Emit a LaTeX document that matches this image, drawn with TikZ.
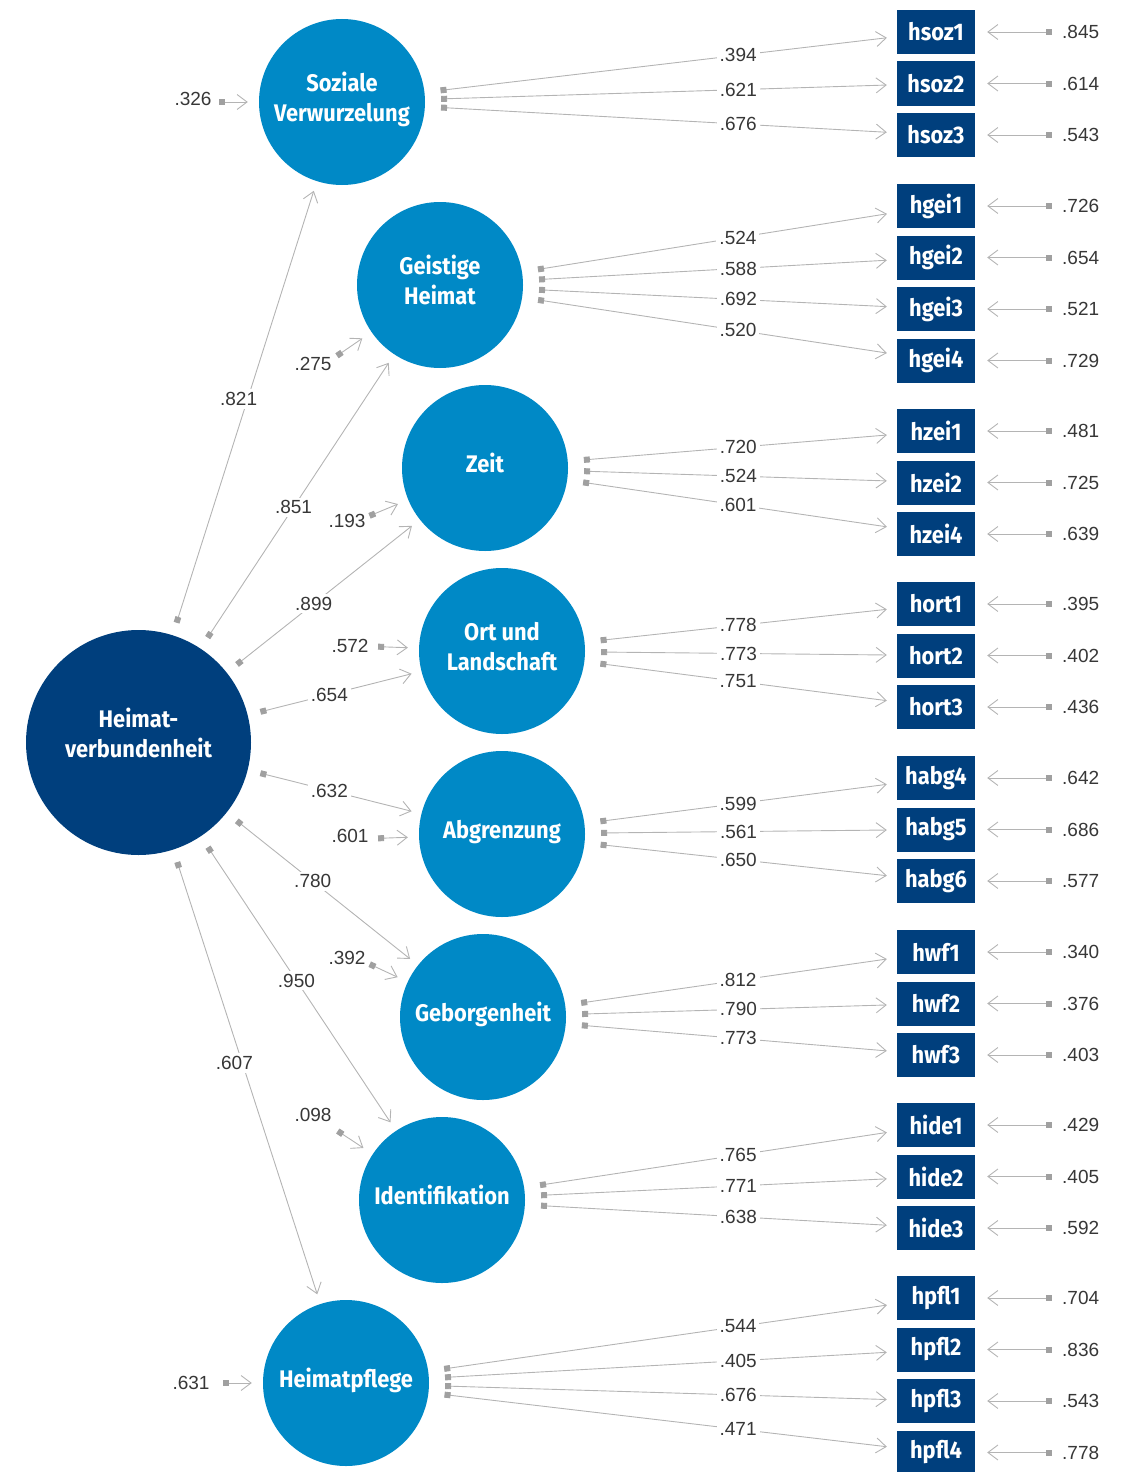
\documentclass[tikz,border=0pt]{standalone}
\usepackage{fontspec}
\setmainfont{Liberation Sans}
\newfontfamily\condfont{Fira Sans}[FakeStretch=0.91]
\usetikzlibrary{arrows.meta}
\definecolor{factblue}{RGB}{0,137,198}
\definecolor{darkblue}{RGB}{0,63,125}
\definecolor{linegray}{RGB}{180,180,180}
\definecolor{sqgray}{RGB}{160,160,160}
\definecolor{numgray}{RGB}{55,55,55}
\begin{document}
\begin{tikzpicture}[x=1pt,y=-1pt,
	latent/.style={circle,fill=factblue,minimum size=166pt,inner sep=0pt,text=white,align=center,text depth=10pt,font=\condfont\bfseries\fontsize{24}{30}\selectfont},
	general/.style={latent,fill=darkblue,minimum size=225pt,text depth=20pt},
	item/.style={rectangle,fill=darkblue,minimum width=78pt,minimum height=44pt,inner sep=0pt,text=white,font=\condfont\bfseries\fontsize{24}{24}\selectfont},
	num/.style={text=numgray,font=\fontsize{19}{19}\selectfont,inner sep=0pt},
	coef/.style={num,fill=white,inner sep=3pt},
	errnum/.style={num,anchor=west,inner xsep=10pt},
	link/.style={draw=linegray,line width=0.9pt,{Square[length=6pt,width=6pt,color=sqgray]}-{Straight Barb[length=10pt,width=15pt]}},
	load/.style={link,shorten <=16pt,shorten >=10pt},
	load2/.style={link,shorten <=13pt,shorten >=10pt},
	err/.style={link,shorten >=12pt},
	dist/.style={link,shorten >=11pt}]
	\useasboundingbox (0,0) rectangle (1131,1472);
	\node [general] (hv) at (138.5,742.5) {Heimat-\\verbundenheit};
	\node [latent] (sv) at (342,102) {Soziale\\Verwurzelung};
	\node [latent] (gh) at (440,285) {Geistige\\Heimat};
	\node [latent] (zt) at (485,468) {Zeit};
	\node [latent] (ol) at (502,651) {Ort und\\Landschaft};
	\node [latent] (ab) at (502,834) {Abgrenzung};
	\node [latent] (gb) at (483,1017) {Geborgenheit};
	\node [latent] (id) at (442,1200) {Identifikation};
	\node [latent] (hp) at (346,1383) {Heimatpflege};
	\draw [load2] (hv) -- (sv) node [coef,pos=0.52,xshift=-9pt] {.821};
	\draw [load2] (hv) -- (gh) node [coef,pos=0.48] {.851};
	\draw [load2] (hv) -- (zt) node [coef,pos=0.45] {.899};
	\draw [load2] (hv) -- (ol) node [coef,pos=0.47] {.654};
	\draw [load2] (hv) -- (ab) node [coef,pos=0.47] {.632};
	\draw [load2] (hv) -- (gb) node [coef,pos=0.45] {.780};
	\draw [load2] (hv) -- (id) node [coef,pos=0.49] {.950};
	\draw [load2] (hv) -- (hp) node [coef,pos=0.47,xshift=-8pt] {.607};
	\coordinate (dsv) at ([shift={(180:123pt)}]sv.center);
	\coordinate (dgh) at ([shift={(214.5:125pt)}]gh.center);
	\coordinate (dzt) at ([shift={(202.5:125pt)}]zt.center);
	\coordinate (dol) at ([shift={(178:124pt)}]ol.center);
	\coordinate (dab) at ([shift={(182:124pt)}]ab.center);
	\coordinate (dgb) at ([shift={(155:125pt)}]gb.center);
	\coordinate (did) at ([shift={(146.5:125pt)}]id.center);
	\coordinate (dhp) at ([shift={(180:123pt)}]hp.center);
	\draw [dist] (dsv) -- (sv);
	\draw [dist] (dgh) -- (gh);
	\draw [dist] (dzt) -- (zt);
	\draw [dist] (dol) -- (ol);
	\draw [dist] (dab) -- (ab);
	\draw [dist] (dgb) -- (gb);
	\draw [dist] (did) -- (id);
	\draw [dist] (dhp) -- (hp);
	\node [num] (lsv) at (193,99) {.326};
	\node [num] (lgh) at (313,364) {.275};
	\node [num] (lzt) at (347,521) {.193};
	\node [num] (lol) at (350,646) {.572};
	\node [num] (lab) at (350,836) {.601};
	\node [num] (lgb) at (347,958) {.392};
	\node [num] (lid) at (313,1115) {.098};
	\node [num] (lhp) at (191,1383) {.631};
	\node [item] (hsoz1) at (936,32) {hsoz1};
	\node [item] (hsoz2) at (936,83.5) {hsoz2};
	\node [item] (hsoz3) at (936,135) {hsoz3};
	\node [item] (hgei1) at (936,206) {hgei1};
	\node [item] (hgei2) at (936,257.5) {hgei2};
	\node [item] (hgei3) at (936,309) {hgei3};
	\node [item] (hgei4) at (936,360.5) {hgei4};
	\node [item] (hzei1) at (936,431) {hzei1};
	\node [item] (hzei2) at (936,482.5) {hzei2};
	\node [item] (hzei4) at (936,534) {hzei4};
	\node [item] (hort1) at (936,604) {hort1};
	\node [item] (hort2) at (936,655.5) {hort2};
	\node [item] (hort3) at (936,707) {hort3};
	\node [item] (habg4) at (936,778) {habg4};
	\node [item] (habg5) at (936,829.5) {habg5};
	\node [item] (habg6) at (936,881) {habg6};
	\node [item] (hwf1) at (936,952) {hwf1};
	\node [item] (hwf2) at (936,1003.5) {hwf2};
	\node [item] (hwf3) at (936,1055) {hwf3};
	\node [item] (hide1) at (936,1125) {hide1};
	\node [item] (hide2) at (936,1176.5) {hide2};
	\node [item] (hide3) at (936,1228) {hide3};
	\node [item] (hpfl1) at (936,1298) {hpfl1};
	\node [item] (hpfl2) at (936,1349.5) {hpfl2};
	\node [item] (hpfl3) at (936,1401) {hpfl3};
	\node [item] (hpfl4) at (936,1452.5) {hpfl4};
	\draw [load] (sv) -- (hsoz1) node [coef,pos=0.664] {.394};
	\draw [load] (sv) -- (hsoz2) node [coef,pos=0.664] {.621};
	\draw [load] (sv) -- (hsoz3) node [coef,pos=0.664] {.676};
	\draw [load] (gh) -- (hgei1) node [coef,pos=0.576] {.524};
	\draw [load] (gh) -- (hgei2) node [coef,pos=0.576] {.588};
	\draw [load] (gh) -- (hgei3) node [coef,pos=0.576] {.692};
	\draw [load] (gh) -- (hgei4) node [coef,pos=0.576] {.520};
	\draw [load] (zt) -- (hzei1) node [coef,pos=0.518] {.720};
	\draw [load] (zt) -- (hzei2) node [coef,pos=0.518] {.524};
	\draw [load] (zt) -- (hzei4) node [coef,pos=0.518] {.601};
	\draw [load] (ol) -- (hort1) node [coef,pos=0.492] {.778};
	\draw [load] (ol) -- (hort2) node [coef,pos=0.492] {.773};
	\draw [load] (ol) -- (hort3) node [coef,pos=0.492] {.751};
	\draw [load] (ab) -- (habg4) node [coef,pos=0.492] {.599};
	\draw [load] (ab) -- (habg5) node [coef,pos=0.492] {.561};
	\draw [load] (ab) -- (habg6) node [coef,pos=0.492] {.650};
	\draw [load] (gb) -- (hwf1) node [coef,pos=0.521] {.812};
	\draw [load] (gb) -- (hwf2) node [coef,pos=0.521] {.790};
	\draw [load] (gb) -- (hwf3) node [coef,pos=0.521] {.773};
	\draw [load] (id) -- (hide1) node [coef,pos=0.574] {.765};
	\draw [load] (id) -- (hide2) node [coef,pos=0.574] {.771};
	\draw [load] (id) -- (hide3) node [coef,pos=0.574] {.638};
	\draw [load] (hp) -- (hpfl1) node [coef,pos=0.661] {.544};
	\draw [load] (hp) -- (hpfl2) node [coef,pos=0.661] {.405};
	\draw [load] (hp) -- (hpfl3) node [coef,pos=0.661] {.676};
	\draw [load] (hp) -- (hpfl4) node [coef,pos=0.661] {.471};
	\node [errnum] (ehsoz1) at (1052,32) {.845};
	\node [errnum] (ehsoz2) at (1052,83.5) {.614};
	\node [errnum] (ehsoz3) at (1052,135) {.543};
	\node [errnum] (ehgei1) at (1052,206) {.726};
	\node [errnum] (ehgei2) at (1052,257.5) {.654};
	\node [errnum] (ehgei3) at (1052,309) {.521};
	\node [errnum] (ehgei4) at (1052,360.5) {.729};
	\node [errnum] (ehzei1) at (1052,431) {.481};
	\node [errnum] (ehzei2) at (1052,482.5) {.725};
	\node [errnum] (ehzei4) at (1052,534) {.639};
	\node [errnum] (ehort1) at (1052,604) {.395};
	\node [errnum] (ehort2) at (1052,655.5) {.402};
	\node [errnum] (ehort3) at (1052,707) {.436};
	\node [errnum] (ehabg4) at (1052,778) {.642};
	\node [errnum] (ehabg5) at (1052,829.5) {.686};
	\node [errnum] (ehabg6) at (1052,881) {.577};
	\node [errnum] (ehwf1) at (1052,952) {.340};
	\node [errnum] (ehwf2) at (1052,1003.5) {.376};
	\node [errnum] (ehwf3) at (1052,1055) {.403};
	\node [errnum] (ehide1) at (1052,1125) {.429};
	\node [errnum] (ehide2) at (1052,1176.5) {.405};
	\node [errnum] (ehide3) at (1052,1228) {.592};
	\node [errnum] (ehpfl1) at (1052,1298) {.704};
	\node [errnum] (ehpfl2) at (1052,1349.5) {.836};
	\node [errnum] (ehpfl3) at (1052,1401) {.543};
	\node [errnum] (ehpfl4) at (1052,1452.5) {.778};
	\draw [err] (ehsoz1) -- (hsoz1);
	\draw [err] (ehsoz2) -- (hsoz2);
	\draw [err] (ehsoz3) -- (hsoz3);
	\draw [err] (ehgei1) -- (hgei1);
	\draw [err] (ehgei2) -- (hgei2);
	\draw [err] (ehgei3) -- (hgei3);
	\draw [err] (ehgei4) -- (hgei4);
	\draw [err] (ehzei1) -- (hzei1);
	\draw [err] (ehzei2) -- (hzei2);
	\draw [err] (ehzei4) -- (hzei4);
	\draw [err] (ehort1) -- (hort1);
	\draw [err] (ehort2) -- (hort2);
	\draw [err] (ehort3) -- (hort3);
	\draw [err] (ehabg4) -- (habg4);
	\draw [err] (ehabg5) -- (habg5);
	\draw [err] (ehabg6) -- (habg6);
	\draw [err] (ehwf1) -- (hwf1);
	\draw [err] (ehwf2) -- (hwf2);
	\draw [err] (ehwf3) -- (hwf3);
	\draw [err] (ehide1) -- (hide1);
	\draw [err] (ehide2) -- (hide2);
	\draw [err] (ehide3) -- (hide3);
	\draw [err] (ehpfl1) -- (hpfl1);
	\draw [err] (ehpfl2) -- (hpfl2);
	\draw [err] (ehpfl3) -- (hpfl3);
	\draw [err] (ehpfl4) -- (hpfl4);
\end{tikzpicture}
\end{document}
